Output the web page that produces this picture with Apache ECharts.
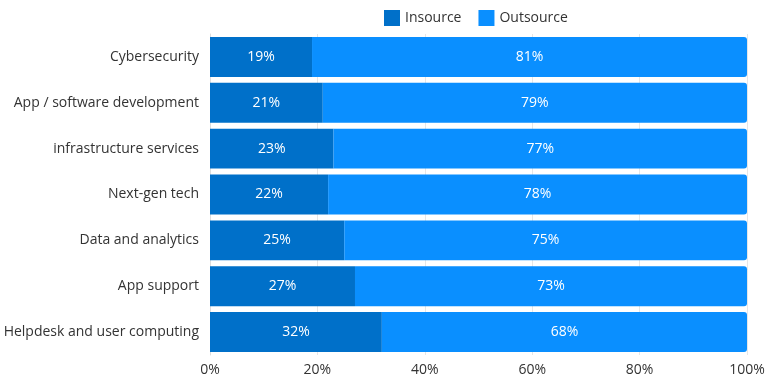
<!DOCTYPE html>
<html>
<head>
<meta charset="utf-8">
<script src="https://cdn.jsdelivr.net/npm/echarts@6/dist/echarts.min.js"></script>
<style>
  html, body { margin: 0; padding: 0; background: #fff; }
  #myChart { width: 768px; height: 377px; }
</style>
</head>
<body>
<div id="myChart"></div>
<script>
// 数据
var categories = ['Cybersecurity', 'App / software development', 'infrastructure services', 'Next-gen tech', 'Data and analytics', 'App support', 'Helpdesk and user computing']
var insource = [19, 21, 23, 22, 25, 27, 32]
var outsource = [81, 79, 77, 78, 75, 73, 68]

var myChart = echarts.init(document.getElementById('myChart'))
myChart.setOption({
  textStyle: { fontFamily: 'Open Sans' },
  legend: {
    top: 10,
    left: 384,
    padding: 0,
    itemWidth: 16,
    itemHeight: 16,
    itemGap: 17,
    icon: 'rect',
    textStyle: { fontSize: 14, color: '#333', fontFamily: 'Open Sans' },
    data: ['Insource', 'Outsource']
  },
  grid: { left: 210, right: 21, top: 34, bottom: 20, containLabel: false },
  xAxis: {
    type: 'value',
    min: 0,
    max: 100,
    interval: 20,
    axisLabel: { formatter: '{value}%', fontSize: 14, color: '#333', margin: 8 },
    splitLine: { show: true, lineStyle: { color: '#e6e6e6' } },
    axisLine: { show: false },
    axisTick: { show: false }
  },
  yAxis: {
    type: 'category',
    inverse: true,
    data: categories,
    axisLabel: { fontSize: 14, color: '#333', margin: 11 },
    axisLine: { show: true, lineStyle: { color: '#ddd' } },
    axisTick: { show: false }
  },
  series: [
    {
      name: 'Insource',
      type: 'bar',
      stack: 'total',
      barCategoryGap: '13%',
      itemStyle: { color: '#0070c9' },
      label: { show: true, position: 'inside', formatter: '{c}%', color: '#fff', fontSize: 14 },
      data: insource
    },
    {
      name: 'Outsource',
      type: 'bar',
      stack: 'total',
      itemStyle: { color: '#0a8fff', borderRadius: [0, 3, 3, 0] },
      label: { show: true, position: 'inside', formatter: '{c}%', color: '#fff', fontSize: 14 },
      data: outsource
    }
  ]
})
</script>
</body>
</html>
